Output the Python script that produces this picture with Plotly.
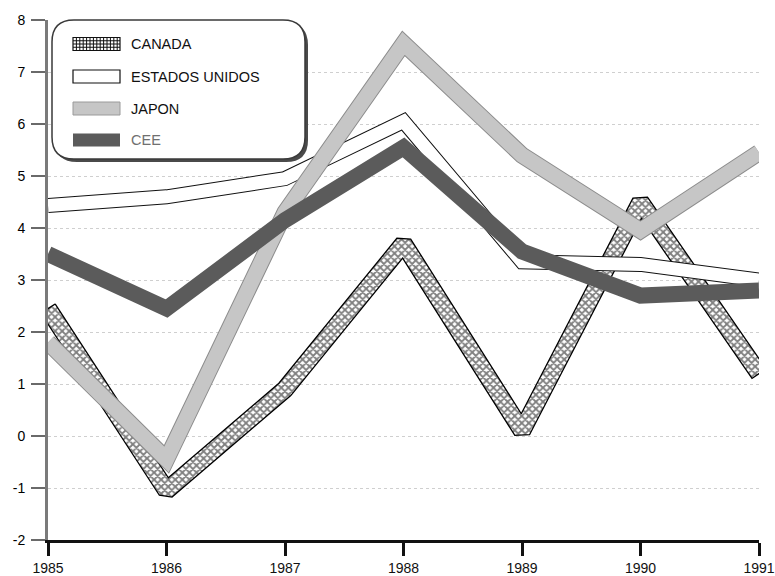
import math
import plotly.graph_objects as go

# ---------------- data ----------------
years = [1985, 1986, 1987, 1988, 1989, 1990, 1991]
canada = [2.45, -1.05, 0.9, 3.7, 0.1, 4.5, 1.2]
estados_unidos = [4.43, 4.6, 4.95, 6.05, 3.35, 3.3, 3.0]
japon = [1.8, -0.45, 4.3, 7.55, 5.4, 3.95, 5.45]
cee = [3.5, 2.45, 4.15, 5.55, 3.55, 2.7, 2.8]
series_names = ["CANADA", "ESTADOS UNIDOS", "JAPON", "CEE"]
y_ticks = list(range(-2, 9))
x_ticks = years

# ---------------- geometry of the plot area ----------------
FIG_W, FIG_H = 775, 576
ML, MR, MT, MB = 48, 16, 20, 36
PW, PH = FIG_W - ML - MR, FIG_H - MT - MB
X0, X1 = years[0], years[-1]
Y0, Y1 = y_ticks[0], y_ticks[-1]


def to_px(x, y):
    return ((x - X0) / (X1 - X0) * PW, (y - Y0) / (Y1 - Y0) * PH)


def from_px(px, py):
    return (px / PW * (X1 - X0) + X0, py / PH * (Y1 - Y0) + Y0)


def band_polygon(xs, ys, hw):
    """Outline of a thick band (bevel joins) around the series line."""
    P = [to_px(x, y) for x, y in zip(xs, ys)]
    n = len(P)
    dirs = []
    for i in range(n - 1):
        dx, dy = P[i + 1][0] - P[i][0], P[i + 1][1] - P[i][1]
        L = math.hypot(dx, dy)
        dirs.append((dx / L, dy / L))
    nrm = [(-d[1], d[0]) for d in dirs]
    left, right = [], []
    for i in range(n):
        px, py = P[i]
        if i == 0 or i == n - 1:
            nn = nrm[0] if i == 0 else nrm[-1]
            left.append((px + hw * nn[0], py + hw * nn[1]))
            right.append((px - hw * nn[0], py - hw * nn[1]))
            continue
        n1, n2 = nrm[i - 1], nrm[i]
        d1, d2 = dirs[i - 1], dirs[i]
        cross = d1[0] * d2[1] - d1[1] * d2[0]
        mx, my = n1[0] + n2[0], n1[1] + n2[1]
        ml = math.hypot(mx, my)
        mx, my = mx / ml, my / ml
        L = hw / (mx * n1[0] + my * n1[1])
        if cross > 0:
            left.append((px + mx * L, py + my * L))
            right.append((px - hw * n1[0], py - hw * n1[1]))
            right.append((px - hw * n2[0], py - hw * n2[1]))
        else:
            left.append((px + hw * n1[0], py + hw * n1[1]))
            left.append((px + hw * n2[0], py + hw * n2[1]))
            right.append((px - mx * L, py - my * L))
    pts = left + right[::-1] + [left[0]]
    conv = [from_px(a, b) for a, b in pts]
    return [c[0] for c in conv], [c[1] for c in conv]


fig = go.Figure()

# CANADA: cross-hatched band
cx, cy = band_polygon(years, canada, 8.5)
fig.add_trace(go.Scatter(
    x=cx, y=cy, mode="lines", fill="toself",
    line=dict(color="#000000", width=1.3),
    fillcolor="white",
    fillpattern=dict(shape="x", fgcolor="#000000", bgcolor="white",
                     size=5, solidity=0.6),
    hoverinfo="skip", showlegend=False))
fig.add_trace(go.Scatter(x=years, y=canada, mode="lines", name=series_names[0],
                         line=dict(color="rgba(0,0,0,0)", width=1),
                         showlegend=False))

# ESTADOS UNIDOS: white band with black outline
fig.add_trace(go.Scatter(x=years, y=estados_unidos, mode="lines",
                         line=dict(color="#111111", width=15),
                         hoverinfo="skip", showlegend=False))
fig.add_trace(go.Scatter(x=years, y=estados_unidos, mode="lines",
                         name=series_names[1],
                         line=dict(color="white", width=13),
                         showlegend=False))

# JAPON: light grey band
fig.add_trace(go.Scatter(x=years, y=japon, mode="lines",
                         line=dict(color="#8c8c8c", width=17),
                         hoverinfo="skip", showlegend=False))
fig.add_trace(go.Scatter(x=years, y=japon, mode="lines", name=series_names[2],
                         line=dict(color="#c6c6c6", width=15),
                         showlegend=False))

# CEE: dark grey band
fig.add_trace(go.Scatter(x=years, y=cee, mode="lines", name=series_names[3],
                         line=dict(color="#5b5b5b", width=16),
                         showlegend=False))


# ---------------- manual legend ----------------
def ppx(px, py):
    """image pixel (from top-left) -> paper coords"""
    return ((px - ML) / PW, 1 - (py - MT) / PH)


def rrect_path(x0, y0, x1, y1, r):
    pts = [
        ("M", [(x0 + r, y0)]), ("L", [(x1 - r, y0)]),
        ("Q", [(x1, y0), (x1, y0 + r)]), ("L", [(x1, y1 - r)]),
        ("Q", [(x1, y1), (x1 - r, y1)]), ("L", [(x0 + r, y1)]),
        ("Q", [(x0, y1), (x0, y1 - r)]), ("L", [(x0, y0 + r)]),
        ("Q", [(x0, y0), (x0 + r, y0)]),
    ]
    s = ""
    for cmd, cs in pts:
        s += cmd + " " + " ".join("%.5f,%.5f" % ppx(a, b) for a, b in cs) + " "
    return s + "Z"


shapes = []
BX0, BY0, BX1, BY1, BR = 52, 20, 305, 159, 22
shapes.append(dict(type="path", xref="paper", yref="paper",
                   path=rrect_path(BX0 + 3, BY0 + 3, BX1 + 3, BY1 + 3, BR),
                   fillcolor="#4a4a4a", line=dict(width=0)))
shapes.append(dict(type="path", xref="paper", yref="paper",
                   path=rrect_path(BX0, BY0, BX1, BY1, BR),
                   fillcolor="white", line=dict(color="#3a3a3a", width=1.5)))

row_y = [44, 76.5, 108.5, 140]
SW0, SW1, SH = 73, 120, 13


def rect(px0, py0, px1, py1, fill, lc=None, lw=0):
    a = ppx(px0, py0)
    b = ppx(px1, py1)
    d = dict(type="rect", xref="paper", yref="paper",
             x0=a[0], y0=b[1], x1=b[0], y1=a[1], fillcolor=fill,
             line=dict(width=lw, color=lc or fill))
    return d


def seg(px0, py0, px1, py1, color, w):
    a = ppx(px0, py0)
    b = ppx(px1, py1)
    return dict(type="line", xref="paper", yref="paper",
                x0=a[0], y0=a[1], x1=b[0], y1=b[1],
                line=dict(color=color, width=w))


# CANADA swatch (grid pattern)
cy0, cy1 = row_y[0] - SH / 2, row_y[0] + SH / 2
shapes.append(rect(SW0, cy0, SW1, cy1, "white", "#111111", 1.2))
vx = SW0 + 3.4
while vx < SW1 - 1:
    shapes.append(seg(vx, cy0, vx, cy1, "#111111", 1))
    vx += 3.4
for k in range(1, 4):
    hy = cy0 + k * SH / 4
    shapes.append(seg(SW0, hy, SW1, hy, "#111111", 1))
# ESTADOS UNIDOS swatch
shapes.append(rect(SW0, row_y[1] - SH / 2, SW1, row_y[1] + SH / 2,
                   "white", "#111111", 1.2))
# JAPON swatch
shapes.append(rect(SW0, row_y[2] - SH / 2, SW1, row_y[2] + SH / 2,
                   "#c6c6c6", "#9a9a9a", 1))
# CEE swatch
shapes.append(rect(SW0, row_y[3] - SH / 2, SW1, row_y[3] + SH / 2,
                   "#5b5b5b", "#5b5b5b", 0))

annotations = []
text_colors = ["#111111", "#111111", "#111111", "#707070"]
for name, ry, tc in zip(series_names, row_y, text_colors):
    ax, ay = ppx(129, ry)
    annotations.append(dict(xref="paper", yref="paper", x=ax, y=ay,
                            text=name, showarrow=False, xanchor="left",
                            yanchor="middle",
                            font=dict(family="Liberation Sans, Arial",
                                      size=14.5, color=tc)))

fig.update_layout(
    width=FIG_W, height=FIG_H,
    margin=dict(l=ML, r=MR, t=MT, b=MB, autoexpand=False),
    paper_bgcolor="white", plot_bgcolor="white",
    showlegend=False,
    shapes=shapes, annotations=annotations,
    font=dict(family="Liberation Sans, Arial", color="#111111"),
)
fig.update_xaxes(
    range=[X0, X1], tickvals=x_ticks, ticktext=[str(v) for v in x_ticks],
    showgrid=False, zeroline=False, automargin=False,
    showline=True, linecolor="#111111", linewidth=3,
    ticks="outside", ticklen=13, tickwidth=3, tickcolor="#111111",
    tickfont=dict(size=14, family="Liberation Sans, Arial", color="#111111"),
)
fig.update_yaxes(
    range=[Y0, Y1], tickvals=y_ticks, ticktext=[str(v) for v in y_ticks],
    showgrid=True, gridcolor="#cfcfcf", griddash="dot", gridwidth=1,
    zeroline=False, automargin=False,
    showline=True, linecolor="#7a7a7a", linewidth=3,
    ticks="outside", ticklen=14, tickwidth=2, tickcolor="#6a6a6a",
    ticklabelstandoff=3,
    tickfont=dict(size=14, family="Liberation Sans, Arial", color="#000000"),
)

fig.write_html(
    "out.html",
    config={"displayModeBar": False},
    post_script="document.body.style.margin='0';document.body.style.padding='0';",
)
